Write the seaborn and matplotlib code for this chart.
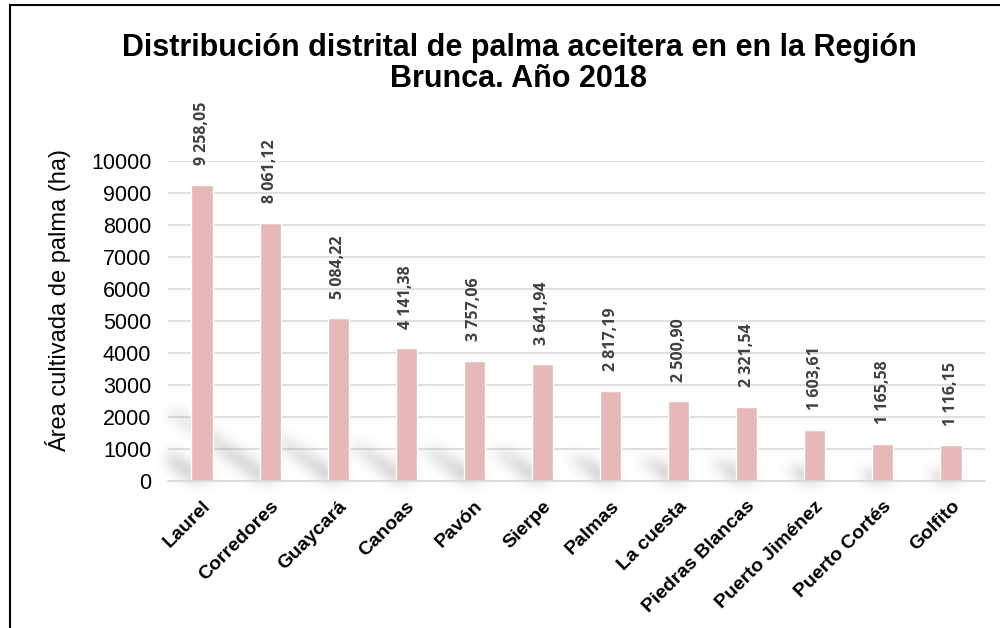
import matplotlib
matplotlib.use("Agg")
import numpy as np
import matplotlib.pyplot as plt
import seaborn as sns
import pandas as pd
from matplotlib.patches import Rectangle
from matplotlib.collections import PolyCollection

distritos = ["Laurel", "Corredores", "Guaycará", "Canoas", "Pavón", "Sierpe",
             "Palmas", "La cuesta", "Piedras Blancas", "Puerto Jiménez",
             "Puerto Cortés", "Golfito"]
area_ha = [9258.05, 8061.12, 5084.22, 4141.38, 3757.06, 3641.94,
           2817.19, 2500.90, 2321.54, 1603.61, 1165.58, 1116.15]
y_ticks = list(range(0, 10001, 1000))

df = pd.DataFrame({"distrito": distritos, "area": area_ha})

sns.set_theme(style="white")
plt.rcParams["font.family"] = ["Liberation Sans", "DejaVu Sans"]
plt.rcParams["text.color"] = "black"

BAR_W = 0.31

fig = plt.figure(figsize=(10, 6.28), dpi=100)
ax = fig.add_axes([0.168, 0.234, 0.817, 0.51])

sns.barplot(data=df, x="distrito", y="area", color="#E6B8B7", saturation=1,
            width=BAR_W, ax=ax, zorder=2)

ax.set_ylim(0, 10000)
ax.set_xlim(-0.5, len(distritos) - 0.5)
ax.set_yticks(y_ticks)
ax.set_yticklabels([str(t) for t in y_ticks], fontsize=15.5, color="black")
ax.yaxis.grid(True, color="#D9D9D9", linewidth=1.2)
ax.set_axisbelow(True)
for s in ["top", "right", "left"]:
    ax.spines[s].set_visible(False)
ax.spines["bottom"].set_color("#D9D9D9")
ax.spines["bottom"].set_linewidth(1.2)
ax.tick_params(axis="y", length=0, pad=12)
ax.tick_params(axis="x", length=0, pad=12)

ax.set_xticks(range(len(distritos)))
ax.set_xticklabels(distritos, rotation=45, ha="right", rotation_mode="anchor",
                   fontsize=14, fontweight="bold", color="black")
ax.set_xlabel("")
ax.set_ylabel("")
fig.text(0.058, 0.522, "Área cultivada de palma (ha)", rotation=90,
         ha="center", va="center", fontsize=17, color="black")


# Soft perspective shadow cast up-left from the base of each bar
def blur_alpha(im, dpi, sigma=4.5):
    pad = int(3 * sigma)
    a = np.pad(im[:, :, 3], pad)
    x = np.arange(-pad, pad + 1)
    k = np.exp(-0.5 * (x / sigma) ** 2)
    k /= k.sum()
    tmp = np.zeros_like(a)
    for i, w in enumerate(k):
        tmp += w * np.roll(a, i - pad, axis=0)
    out_a = np.zeros_like(a)
    for i, w in enumerate(k):
        out_a += w * np.roll(tmp, i - pad, axis=1)
    out = np.zeros(a.shape + (4,))
    out[:, :, :3] = 0.5
    out[:, :, 3] = out_a
    return out, -pad, -pad


SKEW_X = 1.85e-4   # category units per data unit of height
SKEW_Y = 0.28      # fraction of bar height
N_SEG = 12
polys, alphas = [], []
for i, h in enumerate(area_ha):
    xl, xr = i - BAR_W / 2, i + BAR_W / 2
    for s in range(N_SEG):
        t0, t1 = s / N_SEG, (s + 1) / N_SEG
        dx0, dy0 = -SKEW_X * h * t0, SKEW_Y * h * t0
        dx1, dy1 = -SKEW_X * h * t1, SKEW_Y * h * t1
        polys.append([(xl + dx0, dy0), (xr + dx0, dy0),
                      (xr + dx1, dy1), (xl + dx1, dy1)])
        alphas.append(0.42 * (1 - 0.7 * (t0 + t1) / 2))
colors = [(0.5, 0.5, 0.5, a) for a in alphas]
shadow = PolyCollection(polys, facecolors=colors, edgecolors="none",
                        zorder=1.5, antialiased=False)
shadow.set_agg_filter(blur_alpha)
shadow.set_rasterized(True)
ax.add_collection(shadow)


def fmt(v):
    entero, dec = f"{v:.2f}".split(".")
    n = int(entero)
    if n >= 1000:
        entero = f"{n // 1000} {n % 1000:03d}"
    return f"{entero},{dec}"


for i, v in enumerate(area_ha):
    ax.annotate(fmt(v), (i, v), xytext=(0, 14), textcoords="offset points",
                rotation=90, ha="center", va="bottom", fontsize=11.5,
                fontweight="bold", color="#404040",
                family=["Open Sans", "DejaVu Sans"], annotation_clip=False)

fig.text(0.519, 1 - 48 / 628, "Distribución distrital de palma aceitera en en la Región",
         ha="center", va="center", fontsize=22, fontweight="bold", color="black")
fig.text(0.519, 1 - 79 / 628, "Brunca. Año 2018",
         ha="center", va="center", fontsize=22, fontweight="bold", color="black")

fig.patches.append(Rectangle((0.010, -0.05), 1.1, 1.042, transform=fig.transFigure,
                             fill=False, edgecolor="black", linewidth=1.5))

fig.savefig("out.png", dpi=100, facecolor="white")
